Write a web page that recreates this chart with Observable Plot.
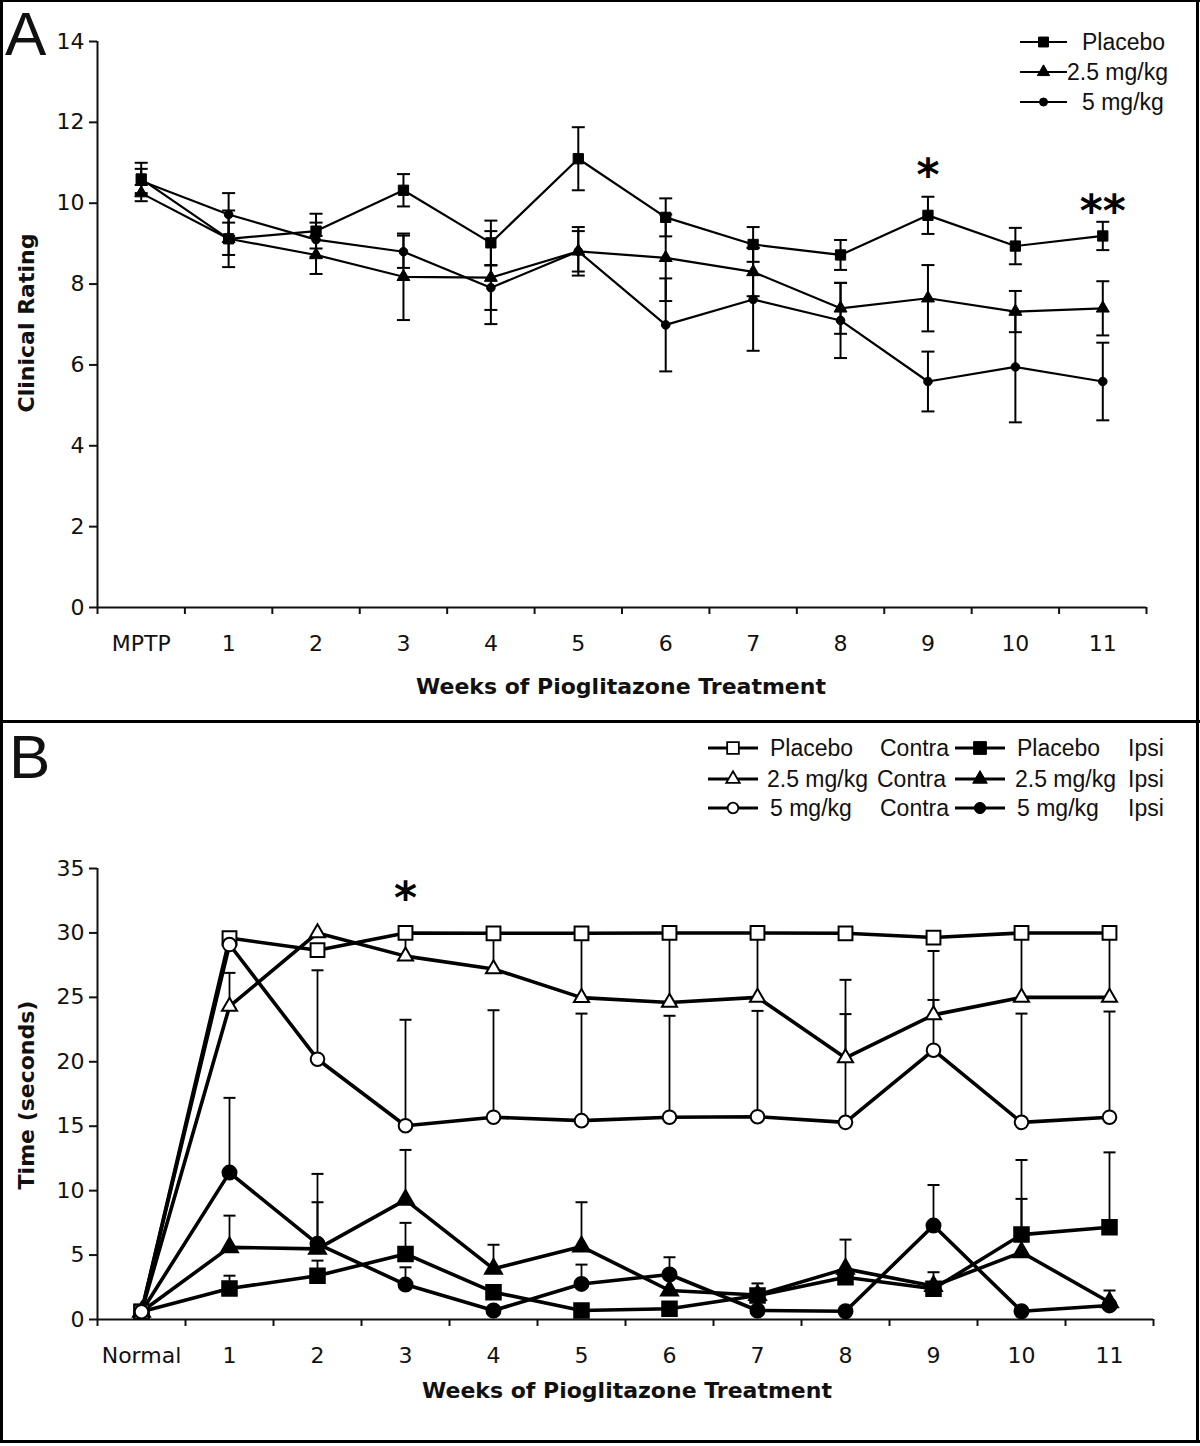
<!DOCTYPE html>
<html><head><meta charset="utf-8">
<script src="https://cdn.jsdelivr.net/npm/d3@7"></script>
<script src="https://cdn.jsdelivr.net/npm/@observablehq/plot@0.6"></script>
<style>
body{margin:0;background:#fff;}
#root{position:relative;width:1200px;height:1446px;background:#fff;overflow:hidden;font-family:"DejaVu Sans",sans-serif;color:#111;}
.bd{position:absolute;background:#000;}
.panel{position:absolute;left:0;width:1200px;}
.letter{position:absolute;font-family:"Liberation Sans",Arial,sans-serif;font-size:62px;line-height:1;}
.ytitle{position:absolute;font-weight:bold;font-size:22px;transform:translate(-50%,-50%) rotate(-90deg);white-space:nowrap;line-height:1;}
.xtitle{position:absolute;font-weight:bold;font-size:22px;transform:translate(-50%,-50%);white-space:nowrap;line-height:1;}
.leg{position:absolute;font-family:"Liberation Sans",Arial,sans-serif;font-size:23px;white-space:nowrap;line-height:1;transform:translateY(-50%);}
</style>
</head><body>
<div id="root">
  <div class="panel" id="panelA" style="top:0;height:722px"></div>
  <div class="panel" id="panelB" style="top:722px;height:720px"></div>
  <div class="bd" style="left:0;top:0;width:1200px;height:2px"></div>
  <div class="bd" style="left:0;top:0;width:3px;height:1443px"></div>
  <div class="bd" style="left:1196px;top:0;width:3px;height:1443px"></div>
  <div class="bd" style="left:0;top:720px;width:1200px;height:3px"></div>
  <div class="bd" style="left:0;top:1440px;width:1200px;height:3px"></div>
  <div class="letter" style="left:5px;top:3px">A</div>
  <div class="letter" style="left:9px;top:726px">B</div>
  <div class="ytitle" style="left:27px;top:323px">Clinical Rating</div>
  <div class="xtitle" style="left:621px;top:687px">Weeks of Pioglitazone Treatment</div>
  <div class="ytitle" style="left:27px;top:1095px">Time (seconds)</div>
  <div class="xtitle" style="left:627px;top:1391px">Weeks of Pioglitazone Treatment</div>
</div>
<script>
// ---------- Panel A data (Clinical Rating, mean ± SEM) ----------
const weeksA = ["MPTP","1","2","3","4","5","6","7","8","9","10","11"];
const placeboA    = [10.6, 9.12, 9.31, 10.32, 9.02, 11.1, 9.65, 8.98, 8.72, 9.7, 8.94, 9.19];
const placeboAErr = [0.4, 0.7, 0.43, 0.4, 0.55, 0.78, 0.47, 0.43, 0.37, 0.46, 0.45, 0.35];
const mg25A       = [10.25, 9.12, 8.72, 8.18, 8.16, 8.81, 8.65, 8.3, 7.4, 7.65, 7.32, 7.4];
const mg25AErr    = [0.2, 0.4, 0.47, 1.07, 1.15, 0.6, 1.07, 0.6, 0.63, 0.82, 0.51, 0.67];
const mg5A        = [10.55, 9.72, 9.1, 8.8, 7.91, 8.81, 6.99, 7.62, 7.1, 5.59, 5.95, 5.59];
const mg5AErr     = [0.3, 0.53, 0.42, 0.4, 0.55, 0.5, 1.15, 1.27, 0.93, 0.74, 1.37, 0.96];
const yTicksA = [0,2,4,6,8,10,12,14];
const sigA = [{week:"9", label:"*"}, {week:"11", label:"**"}];

// ---------- Panel B data (Time in seconds, mean + SEM) ----------
const weeksB = ["Normal","1","2","3","4","5","6","7","8","9","10","11"];
const placeboContra    = [0.6, 29.6, 28.66, 30.0, 29.97, 29.97, 30.0, 30.0, 29.97, 29.64, 30.0, 30.0];
const placeboContraErr = [0,0,0,0,0,0,0,0,0,0,0,0];
const mg25Contra       = [0.6, 24.3, 30.0, 28.2, 27.2, 24.98, 24.6, 25.0, 20.3, 23.64, 25.0, 25.0];
const mg25ContraErr    = [0, 2.6, 0, 1.8, 2.8, 5.0, 5.4, 5.0, 6.06, 4.96, 5.0, 5.0];
const mg5Contra        = [0.6, 29.1, 20.2, 15.04, 15.7, 15.43, 15.7, 15.74, 15.3, 20.9, 15.3, 15.7];
const mg5ContraErr     = [0, 0, 6.9, 8.22, 8.3, 8.31, 7.87, 8.21, 8.4, 3.9, 8.44, 8.2];
const placeboIpsi      = [0.6, 2.4, 3.4, 5.09, 2.12, 0.7, 0.83, 1.86, 3.28, 2.38, 6.59, 7.16];
const placeboIpsiErr   = [0, 1.0, 1.17, 2.41, 0, 0, 0, 0.94, 0, 1.29, 5.79, 5.81];
const mg25Ipsi         = [0.6, 5.6, 5.48, 9.28, 3.93, 5.66, 2.25, 1.9, 3.93, 2.6, 5.22, 1.34];
const mg25IpsiErr      = [0, 2.46, 3.62, 3.88, 1.87, 3.44, 0, 0, 2.27, 0, 4.14, 0.91];
const mg5Ipsi          = [0.6, 11.4, 5.87, 2.71, 0.7, 2.76, 3.49, 0.7, 0.64, 7.29, 0.64, 1.09];
const mg5IpsiErr       = [0, 5.8, 5.43, 1.34, 0, 1.5, 1.34, 0, 0, 3.15, 0, 0];
const yTicksB = [0,5,10,15,20,25,30,35];
const sigB = [{week:"3", label:"*"}];

// ---------- helpers ----------
const rows = (series, vals, errs) => vals.map((v, i) => ({series, i, v, e: errs[i]}));
const capSymbol = {draw(ctx, size){ const w = Math.sqrt(size / Math.PI); ctx.moveTo(-w, 0); ctx.lineTo(w, 0); }};
const symMap = {square: d3.symbolSquare, triangle: d3.symbolTriangle, circle: d3.symbolCircle};

// ---------- Panel A ----------
const sA = [
  {name:"Placebo", rows: rows("Placebo", placeboA, placeboAErr), symbol:"square", r:5.8},
  {name:"2.5 mg/kg", rows: rows("2.5 mg/kg", mg25A, mg25AErr), symbol:"triangle", r:4.8},
  {name:"5 mg/kg", rows: rows("5 mg/kg", mg5A, mg5AErr), symbol:"circle", r:4.3}
];
const allA = sA.flatMap(s => s.rows);
const capsA = allA.flatMap(d => [{i:d.i, y:d.v + d.e}, {i:d.i, y:d.v - d.e}]);
const sigRowsA = sigA.map(s => { const i = weeksA.indexOf(s.week); return {i, y: placeboA[i] + placeboAErr[i], label: s.label}; });

const plotA = Plot.plot({
  width: 1200, height: 722,
  marginLeft: 97, marginRight: 54, marginTop: 41, marginBottom: 115,
  style: {fontFamily: "DejaVu Sans", fontSize: "22px", color: "#111", background: "transparent", overflow: "visible"},
  x: {domain: [-0.5, 11.5], axis: null},
  y: {domain: [0, 14], axis: null},
  marks: [
    Plot.axisY({ticks: yTicksA, tickSize: 8, tickPadding: 5, label: null, strokeWidth: 2}),
    Plot.axisX({ticks: d3.range(weeksA.length), tickSize: 0, tickPadding: 28, tickFormat: i => weeksA[i], label: null}),
    Plot.axisX({ticks: d3.range(-0.5, weeksA.length, 1), tickSize: 7, tickFormat: () => "", label: null, strokeWidth: 2}),
    Plot.ruleX([-0.5], {strokeWidth: 2}),
    Plot.ruleY([0], {strokeWidth: 2}),
    Plot.line(allA, {x: "i", y: "v", z: "series", stroke: "black", strokeWidth: 2.2}),
    Plot.ruleX(allA, {x: "i", y1: d => d.v - d.e, y2: d => d.v + d.e, stroke: "black", strokeWidth: 2}),
    Plot.dot(capsA, {x: "i", y: "y", symbol: capSymbol, r: 6.5, stroke: "black", fill: "none", strokeWidth: 2}),
    ...sA.map(s => Plot.dot(s.rows, {x: "i", y: "v", symbol: s.symbol, r: s.r, fill: "black", stroke: "black", strokeWidth: 1})),
    Plot.text(sigRowsA.filter(d => d.label === "*"), {x: "i", y: "y", text: "label", fontSize: 44, fontWeight: "bold", dy: -21, fill: "black"}),
    Plot.text(sigRowsA.filter(d => d.label === "**"), {x: "i", y: "y", text: "label", fontSize: 44, fontWeight: "bold", dy: -10, fill: "black"})
  ]
});
document.getElementById("panelA").appendChild(plotA);

// ---------- Panel B ----------
const sB = [
  {name:"Placebo Ipsi", rows: rows("pI", placeboIpsi, placeboIpsiErr), symbol:"square", r:8.2, fill:"black"},
  {name:"2.5 mg/kg Ipsi", rows: rows("tI", mg25Ipsi, mg25IpsiErr), symbol:"triangle", r:6.3, fill:"black"},
  {name:"5 mg/kg Ipsi", rows: rows("cI", mg5Ipsi, mg5IpsiErr), symbol:"circle", r:7, fill:"black"},
  {name:"Placebo Contra", rows: rows("pC", placeboContra, placeboContraErr), symbol:"square", r:7.8, fill:"white"},
  {name:"2.5 mg/kg Contra", rows: rows("tC", mg25Contra, mg25ContraErr), symbol:"triangle", r:5.6, fill:"white"},
  {name:"5 mg/kg Contra", rows: rows("cC", mg5Contra, mg5ContraErr), symbol:"circle", r:6.8, fill:"white"}
];
const allB = sB.flatMap(s => s.rows);
const errB = allB.filter(d => d.e > 0);
const capsB = errB.map(d => ({i: d.i, y: d.v + d.e}));
const sigRowsB = sigB.map(s => { const i = weeksB.indexOf(s.week); return {i, y: placeboContra[i], label: s.label}; });

const plotB = Plot.plot({
  width: 1200, height: 720,
  marginLeft: 97, marginRight: 47, marginTop: 146, marginBottom: 123,
  style: {fontFamily: "DejaVu Sans", fontSize: "22px", color: "#111", background: "transparent", overflow: "visible"},
  x: {domain: [-0.5, 11.5], axis: null},
  y: {domain: [0, 35], axis: null},
  marks: [
    Plot.axisY({ticks: yTicksB, tickSize: 8, tickPadding: 5, label: null, strokeWidth: 2}),
    Plot.axisX({ticks: d3.range(weeksB.length), tickSize: 0, tickPadding: 28, tickFormat: i => weeksB[i], label: null}),
    Plot.axisX({ticks: d3.range(-0.5, weeksB.length, 1), tickSize: 7, tickFormat: () => "", label: null, strokeWidth: 2}),
    Plot.ruleX([-0.5], {strokeWidth: 2}),
    Plot.ruleY([0], {strokeWidth: 2}),
    Plot.ruleX(errB, {x: "i", y1: "v", y2: d => d.v + d.e, stroke: "black", strokeWidth: 1.8}),
    Plot.dot(capsB, {x: "i", y: "y", symbol: capSymbol, r: 6, stroke: "black", fill: "none", strokeWidth: 2}),
    Plot.line(allB, {x: "i", y: "v", z: "series", stroke: "black", strokeWidth: 3.6}),
    ...sB.map(s => Plot.dot(s.rows, {x: "i", y: "v", symbol: s.symbol, r: s.r, fill: s.fill, stroke: "black", strokeWidth: 2})),
    Plot.text(sigRowsB, {x: "i", y: "y", text: "label", fontSize: 44, fontWeight: "bold", dy: -34, fill: "black"})
  ]
});
document.getElementById("panelB").appendChild(plotB);

// ---------- Legends (HTML) ----------
const root = document.getElementById("root");
function swatch(x, y, w, symbol, fill, r, sw){
  const svg = d3.select(root).append("svg")
    .style("position","absolute").style("left", x + "px").style("top", (y - 12) + "px")
    .attr("width", w).attr("height", 24).style("overflow","visible");
  svg.append("line").attr("x1",0).attr("x2",w).attr("y1",12).attr("y2",12).attr("stroke","black").attr("stroke-width",sw);
  svg.append("path").attr("transform",`translate(${w/2},12)`)
    .attr("d", d3.symbol(symMap[symbol], Math.PI * r * r)())
    .attr("fill", fill).attr("stroke","black").attr("stroke-width", fill === "white" ? 1.8 : 1);
}
function label(x, y, text){
  d3.select(root).append("div").attr("class","leg").style("left", x + "px").style("top", y + "px").text(text);
}
const legendA = [
  {label:"Placebo", symbol:"square", r:5.6},
  {label:"2.5 mg/kg", symbol:"triangle", r:4.6},
  {label:"5 mg/kg", symbol:"circle", r:4}
];
const legAY = [42, 72, 102], legATx = [1082, 1067, 1082];
legendA.forEach((d, k) => { swatch(1020, legAY[k], 47, d.symbol, "black", d.r, 2); label(legATx[k], legAY[k], d.label); });

const legendBDose = ["Placebo", "2.5 mg/kg", "5 mg/kg"];
const legendBSym = ["square", "triangle", "circle"];
const legBY = [748, 779, 808];
legendBDose.forEach((dose, k) => {
  const rC = [6.6, 5, 5.3][k], rI = [7.2, 5.4, 5.6][k];
  swatch(708, legBY[k], 50, legendBSym[k], "white", rC, 3);
  label(k === 1 ? 767 : 770, legBY[k], dose);
  label(k === 1 ? 877 : 880, legBY[k], "Contra");
  swatch(955, legBY[k], 50, legendBSym[k], "black", rI, 3);
  label(k === 1 ? 1015 : 1017, legBY[k], dose);
  label(1128, legBY[k], "Ipsi");
});
</script>
</body></html>
